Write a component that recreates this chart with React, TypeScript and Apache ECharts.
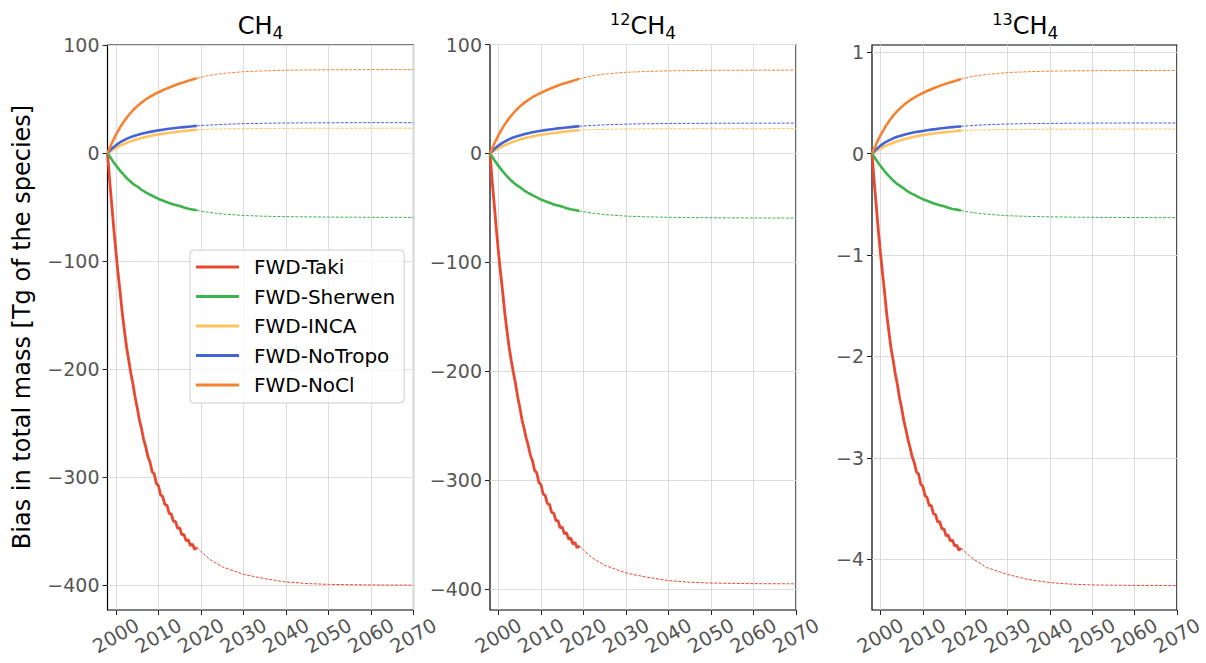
import React, { useEffect, useRef } from "react";
import * as echarts from "echarts";

// ---------- data ----------
const MODELS = ["FWD-Taki", "FWD-Sherwen", "FWD-INCA", "FWD-NoTropo", "FWD-NoCl"];
const COLORS = ["#e8482f", "#3cb44b", "#ffc35e", "#4363d8", "#f58231"];

const YEARS = [1998, 1999, 2000, 2001, 2002, 2003, 2004, 2005, 2006, 2007, 2008, 2009, 2010, 2011, 2012, 2013, 2014, 2015, 2016, 2017, 2018, 2019];
const YEARS_HALF = [1998, 1998.5, 1999, 1999.5, 2000, 2000.5, 2001, 2001.5, 2002, 2002.5, 2003, 2003.5, 2004, 2004.5, 2005, 2005.5, 2006, 2006.5, 2007, 2007.5, 2008, 2008.5, 2009, 2009.5, 2010, 2010.5, 2011, 2011.5, 2012, 2012.5, 2013, 2013.5, 2014, 2014.5, 2015, 2015.5, 2016, 2016.5, 2017, 2017.5, 2018, 2018.5, 2019];
const PROJ_YEARS = [2019, 2020, 2022, 2025, 2030, 2035, 2040, 2045, 2050, 2060, 2070];

const X_TICKS = [2000, 2010, 2020, 2030, 2040, 2050, 2060, 2070];
const Y_TICKS_CH4 = [-400, -300, -200, -100, 0, 100];
const Y_TICKS_12CH4 = [-400, -300, -200, -100, 0, 100];
const Y_TICKS_13CH4 = [-4, -3, -2, -1, 0, 1];

// CH4
const TAKI_CH4 = [0, -25, -48, -71, -92, -112, -130, -149, -165, -180, -192, -204, -214, -226, -236, -247, -255, -265, -272, -281, -286, -295, -297, -306, -308, -316.5, -318, -325.5, -326, -333.5, -334, -341, -341, -347.5, -347, -353.5, -353, -359, -358, -363.5, -362, -367, -365];
const TAKI_CH4_PROJ = [-365, -369, -376, -383, -390, -394, -397, -398.5, -399.3, -399.8, -400];
const SHERWEN_CH4 = [0, -6, -11.5, -16.5, -21, -25, -28.5, -31, -34, -36.5, -38.5, -40.5, -42.5, -44, -45.5, -47, -48, -49, -50.5, -51.5, -52.2, -53];
const SHERWEN_CH4_PROJ = [-53, -53.8, -55, -56.4, -57.8, -58.5, -58.9, -59.1, -59.3, -59.5, -59.6];
const INCA_CH4 = [0, 2.5, 4.8, 6.8, 8.6, 10.2, 11.6, 12.8, 13.9, 14.9, 15.8, 16.6, 17.3, 17.9, 18.5, 19, 19.5, 20, 20.4, 20.8, 21.2, 21.5];
const INCA_CH4_PROJ = [21.5, 21.7, 22, 22.3, 22.6, 22.75, 22.85, 22.9, 22.9, 22.95, 23];
const NOTROPO_CH4 = [0, 4, 7.3, 10, 12.2, 14, 15.5, 16.7, 17.8, 18.8, 19.6, 20.3, 21, 21.6, 22.2, 22.7, 23.2, 23.6, 24, 24.4, 24.8, 25.1];
const NOTROPO_CH4_PROJ = [25.1, 25.4, 25.9, 26.5, 27.2, 27.6, 27.8, 27.9, 28, 28.1, 28.1];
const NOCL_CH4 = [0, 9, 17, 24, 30, 35.2, 39.6, 43.4, 46.7, 49.6, 52.1, 54.3, 56.3, 58.1, 59.8, 61.4, 62.9, 64.3, 65.6, 66.8, 68, 69.2];
const NOCL_CH4_PROJ = [69.2, 70.1, 71.9, 73.6, 75.3, 76.1, 76.6, 76.9, 77.1, 77.2, 77.3];

// 12CH4
const TAKI_12CH4 = [0, -25, -47, -70, -91, -110, -128, -147, -163, -178, -190, -201, -211, -223, -233, -244, -252, -261, -268, -277, -282, -291, -293, -302, -304, -312.5, -314, -321.5, -322, -329.5, -330, -337, -337, -343.5, -343, -349, -348, -354, -353, -358.5, -357, -362, -360];
const TAKI_12CH4_PROJ = [-360, -364, -371, -378, -385, -389, -392, -393.5, -394.3, -394.8, -395];
const SHERWEN_12CH4 = [0, -6, -11.4, -16.4, -20.9, -24.9, -28.4, -30.8, -33.8, -36.3, -38.3, -40.3, -42.3, -43.8, -45.3, -46.8, -47.8, -48.8, -50.2, -51.2, -51.9, -52.7];
const SHERWEN_12CH4_PROJ = [-52.7, -53.5, -54.7, -56.1, -57.5, -58.2, -58.6, -58.8, -59, -59.2, -59.3];
const INCA_12CH4 = [0, 2.5, 4.7, 6.7, 8.5, 10.1, 11.5, 12.7, 13.8, 14.8, 15.6, 16.4, 17.1, 17.7, 18.3, 18.8, 19.3, 19.8, 20.2, 20.6, 21, 21.3];
const INCA_12CH4_PROJ = [21.3, 21.5, 21.8, 22.1, 22.4, 22.55, 22.65, 22.7, 22.7, 22.75, 22.8];
const NOTROPO_12CH4 = [0, 4, 7.2, 9.9, 12.1, 13.9, 15.3, 16.5, 17.6, 18.6, 19.4, 20.1, 20.8, 21.4, 22, 22.5, 23, 23.4, 23.8, 24.2, 24.6, 24.9];
const NOTROPO_12CH4_PROJ = [24.9, 25.2, 25.7, 26.3, 26.9, 27.3, 27.5, 27.6, 27.7, 27.8, 27.8];
const NOCL_12CH4 = [0, 8.9, 16.8, 23.8, 29.7, 34.8, 39.2, 43, 46.2, 49.1, 51.6, 53.8, 55.7, 57.5, 59.2, 60.8, 62.3, 63.7, 64.9, 66.1, 67.3, 68.5];
const NOCL_12CH4_PROJ = [68.5, 69.4, 71.2, 72.9, 74.5, 75.3, 75.8, 76.1, 76.3, 76.4, 76.5];

// 13CH4
const TAKI_13CH4 = [0, -0.27, -0.51, -0.76, -0.98, -1.19, -1.38, -1.59, -1.76, -1.92, -2.04, -2.17, -2.28, -2.41, -2.51, -2.63, -2.72, -2.82, -2.9, -2.99, -3.05, -3.14, -3.16, -3.26, -3.28, -3.37, -3.39, -3.47, -3.47, -3.55, -3.56, -3.63, -3.63, -3.7, -3.7, -3.77, -3.76, -3.82, -3.81, -3.87, -3.86, -3.91, -3.89];
const TAKI_13CH4_PROJ = [-3.89, -3.93, -4.0, -4.08, -4.15, -4.2, -4.23, -4.245, -4.253, -4.258, -4.26];
const SHERWEN_13CH4 = [0, -0.064, -0.122, -0.175, -0.223, -0.265, -0.302, -0.329, -0.36, -0.387, -0.408, -0.429, -0.45, -0.466, -0.482, -0.498, -0.509, -0.519, -0.535, -0.546, -0.553, -0.562];
const SHERWEN_13CH4_PROJ = [-0.562, -0.57, -0.583, -0.598, -0.613, -0.62, -0.624, -0.627, -0.629, -0.631, -0.632];
const INCA_13CH4 = [0, 0.026, 0.05, 0.071, 0.09, 0.107, 0.122, 0.134, 0.146, 0.156, 0.166, 0.174, 0.182, 0.188, 0.194, 0.2, 0.205, 0.21, 0.214, 0.218, 0.223, 0.226];
const INCA_13CH4_PROJ = [0.226, 0.228, 0.231, 0.234, 0.237, 0.239, 0.24, 0.24, 0.24, 0.241, 0.241];
const NOTROPO_13CH4 = [0, 0.043, 0.078, 0.107, 0.13, 0.15, 0.165, 0.178, 0.19, 0.2, 0.209, 0.216, 0.223, 0.23, 0.236, 0.241, 0.247, 0.251, 0.256, 0.26, 0.264, 0.268];
const NOTROPO_13CH4_PROJ = [0.268, 0.271, 0.277, 0.284, 0.291, 0.295, 0.297, 0.299, 0.3, 0.301, 0.301];
const NOCL_13CH4 = [0, 0.095, 0.18, 0.254, 0.318, 0.373, 0.42, 0.46, 0.495, 0.526, 0.552, 0.576, 0.597, 0.616, 0.634, 0.651, 0.667, 0.682, 0.695, 0.708, 0.721, 0.734];
const NOCL_13CH4_PROJ = [0.734, 0.743, 0.762, 0.78, 0.798, 0.807, 0.812, 0.815, 0.817, 0.818, 0.819];

const PANELS = [
  {
    title: "{m|CH}{sub|4}",
    yMin: -423, yMax: 100, yTicks: Y_TICKS_CH4,
    solid: [TAKI_CH4, SHERWEN_CH4, INCA_CH4, NOTROPO_CH4, NOCL_CH4],
    proj: [TAKI_CH4_PROJ, SHERWEN_CH4_PROJ, INCA_CH4_PROJ, NOTROPO_CH4_PROJ, NOCL_CH4_PROJ],
  },
  {
    title: "{sup|12}{m|CH}{sub|4}",
    yMin: -419, yMax: 100, yTicks: Y_TICKS_12CH4,
    solid: [TAKI_12CH4, SHERWEN_12CH4, INCA_12CH4, NOTROPO_12CH4, NOCL_12CH4],
    proj: [TAKI_12CH4_PROJ, SHERWEN_12CH4_PROJ, INCA_12CH4_PROJ, NOTROPO_12CH4_PROJ, NOCL_12CH4_PROJ],
  },
  {
    title: "{sup|13}{m|CH}{sub|4}",
    yMin: -4.5, yMax: 1.07, yTicks: Y_TICKS_13CH4,
    solid: [TAKI_13CH4, SHERWEN_13CH4, INCA_13CH4, NOTROPO_13CH4, NOCL_13CH4],
    proj: [TAKI_13CH4_PROJ, SHERWEN_13CH4_PROJ, INCA_13CH4_PROJ, NOTROPO_13CH4_PROJ, NOCL_13CH4_PROJ],
  },
];

// ---------- layout ----------
const GRIDS = [
  { left: 107.5, top: 45, width: 306, height: 565 },
  { left: 490, top: 44.5, width: 306, height: 565.5 },
  { left: 872, top: 45, width: 306.5, height: 565 },
];
const FONT = "DejaVu Sans";
const fmt = (v: number) => String(v).replace("-", "\u2212");

function buildOption() {
  const series: any[] = [];
  PANELS.forEach((p, i) => {
    MODELS.forEach((name, k) => {
      const xs = k === 0 ? YEARS_HALF : YEARS;
      series.push({
        name, type: "line", xAxisIndex: i, yAxisIndex: i,
        data: p.solid[k].map((v, j) => [xs[j], v]),
        showSymbol: false, symbol: "none", silent: true, z: 3,
        lineStyle: { color: COLORS[k], width: k === 0 ? 2.8 : 2.6 },
        itemStyle: { color: COLORS[k] },
      });
    });
  });
  PANELS.forEach((p, i) => {
    MODELS.forEach((name, k) => {
      series.push({
        name, type: "line", xAxisIndex: i, yAxisIndex: i,
        data: p.proj[k].map((v, j) => [PROJ_YEARS[j], v]),
        showSymbol: false, symbol: "none", silent: true, z: 3,
        lineStyle: { color: COLORS[k], width: 1, type: [3, 1.5] },
        itemStyle: { color: COLORS[k] },
      });
    });
  });

  const axisCommon = {
    axisLine: { show: false, onZero: false },
    splitLine: { show: true, lineStyle: { color: "#dcdcdc", width: 1 } },
    axisTick: { show: true, inside: false, length: 5, lineStyle: { color: "#222", width: 1 } },
  };

  const xAxis = GRIDS.map((_, i) => ({
    type: "value", gridIndex: i, min: 1998, max: 2070,
    ...axisCommon,
    axisTick: { ...axisCommon.axisTick, customValues: X_TICKS },
    axisLabel: {
      customValues: X_TICKS, rotate: 30, align: "center", verticalAlign: "middle",
      margin: 26, fontSize: 19.5, color: "#555", fontFamily: FONT, formatter: fmt,
    },
  }));
  const yAxis = PANELS.map((p, i) => ({
    type: "value", gridIndex: i, min: p.yMin, max: p.yMax,
    ...axisCommon,
    axisTick: { ...axisCommon.axisTick, customValues: p.yTicks },
    axisLabel: {
      customValues: p.yTicks, margin: 8, fontSize: 19, color: "#555", fontFamily: FONT, formatter: fmt,
    },
  }));

  const titleCenters = GRIDS.map((g) => g.left + g.width / 2);
  const graphic: any[] = titleCenters.map((cx, i) => ({
    type: "text", x: cx, y: 26, silent: true,
    style: {
      text: PANELS[i].title, align: "center", verticalAlign: "middle", fill: "#000",
      fontFamily: FONT,
      rich: {
        m: { fontSize: 24, lineHeight: 30, fontFamily: FONT, fill: "#000" },
        sub: { fontSize: 17, lineHeight: 17, verticalAlign: "bottom", fontFamily: FONT, fill: "#000" },
        sup: { fontSize: 16, lineHeight: 17, verticalAlign: "top", fontFamily: FONT, fill: "#000" },
      },
    },
  }));
  graphic.push({
    type: "text", x: 22, y: 327, rotation: Math.PI / 2, silent: true,
    style: {
      text: "Bias in total mass [Tg of the species]", align: "center", verticalAlign: "middle",
      fontSize: 24, fontFamily: FONT, fill: "#000",
    },
  });

  return {
    animation: false,
    textStyle: { fontFamily: FONT },
    grid: GRIDS.map((g) => ({ ...g, show: true, borderColor: "#000", borderWidth: 1.2, backgroundColor: "transparent", containLabel: false })),
    xAxis, yAxis, series, graphic,
    legend: {
      data: MODELS, orient: "vertical", left: 190, top: 250,
      icon: "rect", itemWidth: 43, itemHeight: 3, itemGap: 9.5,
      itemStyle: { borderWidth: 0 },
      padding: [7, 9, 8, 6],
      backgroundColor: "rgba(255,255,255,0.8)", borderColor: "#cccccc", borderWidth: 1, borderRadius: 4,
      textStyle: { fontSize: 20, color: "#000", fontFamily: FONT, lineHeight: 20, padding: [0, 0, 0, 10] },
      selectedMode: false,
    },
  };
}

export default function App() {
  const ref = useRef<HTMLDivElement>(null);
  useEffect(() => {
    if (!ref.current) return;
    const chart = echarts.init(ref.current, null, { renderer: "svg" });
    chart.setOption(buildOption() as any);
    return () => chart.dispose();
  }, []);
  return (
    <div
      ref={ref}
      style={{ position: "absolute", left: 0, top: 0, width: 1206, height: 663, background: "#fff" }}
    />
  );
}
